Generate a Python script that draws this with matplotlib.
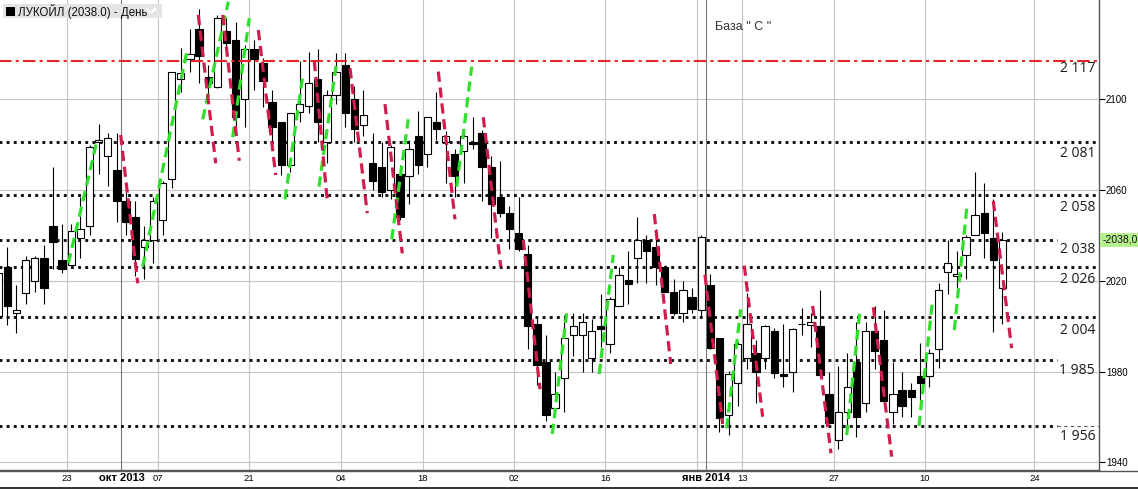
import matplotlib
matplotlib.use("Agg")
import matplotlib.pyplot as plt
import matplotlib.transforms as mtransforms
from matplotlib.patches import Rectangle
from matplotlib.lines import Line2D

# ЛУКОЙЛ daily candles, trading-day index 0 = 23 Sep 2013
first_index = -8
opens = [2004.5, 2026, 2006, 2014.5, 2020, 2030, 2044, 2029,
         2027, 2039, 2044, 2081, 2075, 2069, 2055, 2048, 2035, 2038,
         2047, 2065, 2109, 2117.6, 2131, 2110, 2105.6, 2130, 2126, 2100,
         2122, 2116, 2099, 2090, 2071, 2094.5, 2097, 2109, 2081, 2102,
         2115, 2100, 2088.5, 2072, 2070, 2060, 2067, 2066, 2084, 2076,
         2090, 2081, 2076, 2077, 2081.3, 2085, 2070, 2057, 2050, 2041,
         2032, 2001, 1984, 1964, 1977, 1996, 1996, 1986, 2000, 1992,
         2009, 2020.4, 2030, 2038, 2035, 2026, 2015, 2006, 2013, 2007,
         2018, 1995, 1961, 1975, 1986, 1988, 1986, 1998, 1979, 1980,
         2001, 2000.5, 2000, 1970, 1950, 1962, 1984, 1966, 1998, 1994,
         1962, 1972, 1972, 1978, 1978, 1990, 2024, 2022, 2031.4, 2040,
         2050, 2039, 2017]
highs = [2025, 2035, 2018, 2031, 2031, 2036, 2070, 2045,
         2045, 2057, 2080, 2089, 2085, 2085, 2059, 2055, 2044, 2057,
         2064, 2112, 2122.5, 2131, 2140, 2115, 2137, 2136, 2134, 2124,
         2126, 2118, 2104, 2090, 2094, 2117, 2121, 2122, 2104, 2120.5,
         2120.5, 2106, 2104, 2085, 2081, 2080, 2071, 2082, 2095, 2092,
         2103, 2086, 2078, 2086.5, 2092, 2086.5, 2075, 2073, 2053, 2057,
         2036, 2004, 1996, 1980, 2005, 2006, 2006, 2003, 2014, 2013,
         2026, 2033, 2048, 2040, 2043, 2027, 2021, 2020, 2017, 2040,
         2023, 1995, 1980.4, 1993, 2014.5, 1994, 2000.5, 1999, 2001, 1999,
         2008, 2006, 2016, 1980, 1982.5, 1988, 2002, 2002, 2009, 2007,
         1984, 1980, 1975, 1992.5, 1990, 2019, 2038, 2033, 2040, 2068,
         2063, 2056, 2041.5]
lows = [2003, 2000.5, 1997, 2010, 2015, 2010, 2025, 2023.5,
        2027, 2030, 2040, 2067, 2062, 2046, 2040, 2022, 2021, 2028,
        2040, 2061, 2103, 2112, 2107, 2100, 2105, 2119.5, 2087, 2088,
        2104, 2096.5, 2078, 2066.6, 2068, 2090, 2094, 2081, 2072, 2098,
        2088, 2081, 2084, 2060, 2057, 2056, 2047, 2054, 2067, 2070,
        2082, 2063, 2057, 2063, 2078, 2055, 2039, 2048, 2034, 2033,
        1990, 1974, 1958, 1963, 1962, 1987, 1980, 1980, 1991, 1988,
        2009, 2010, 2019, 2019, 2018, 2015, 2005, 2002, 2006, 2004.5,
        1990, 1953.5, 1952, 1965, 1981, 1966, 1981, 1977, 1973, 1971,
        1996, 1991, 1978, 1957, 1946, 1954, 1951, 1962, 1981, 1966,
        1957, 1960, 1960, 1965, 1973, 1981.5, 2014, 2014, 2021, 2040,
        2030, 1997.6, 2001]
closes = [2023.5, 2009, 2007, 2029, 2030, 2017, 2037, 2025,
          2042, 2043, 2079, 2082, 2083, 2055, 2046, 2029.5, 2038, 2055,
          2063, 2112, 2111.5, 2120, 2119, 2107, 2135.7, 2125, 2092, 2122,
          2117.6, 2108, 2088, 2071, 2094, 2098, 2107, 2090, 2102, 2112,
          2094, 2087, 2093, 2064, 2059, 2079, 2048.3, 2078, 2071, 2092,
          2087, 2084, 2066, 2084, 2080.2, 2070, 2054, 2050, 2043, 2034,
          2000, 1983, 1961, 1970, 1995, 2000, 2002, 1998, 1998.6, 2012,
          2022.4, 2018.5, 2038, 2033, 2026, 2015, 2006, 2016, 2007.4, 2039.4,
          1990.3, 1959.4, 1979, 1992, 2001, 1980, 2000, 1979.5, 1978, 1998.6,
          2001, 2002, 1978.5, 1957.2, 1962, 1973, 1960, 1998, 1989, 1967,
          1970, 1965, 1969, 1975, 1988, 2016, 2028, 2023, 2039.2, 2049,
          2041, 2029, 2038]

# support / resistance levels: value, label, dotted line end (trading-day index)
levels = [2081, 2058, 2038, 2026, 2004, 1985, 1956]
level_labels = ["2 081", "2 058", "2 038", "2 026", "2 004", "1 985", "1 956"]
level_ends = [112.4, 112.4, 108.0, 112.4, 112.4, 108.0, 108.0]
level_label_drop = [10.7, 13.3, 9.7, 12.7, 13.0, 9.8, 10.8]   # px below the line
base_level = 2117

# dashed swing lines (start index, start price, end index, end price)
up_moves = [(-0.32, 2027.7, 2.79, 2081.3), (7.82, 2026.2, 12.71, 2122.0),
            (14.40, 2091.2, 17.20, 2143.0), (17.68, 2083.3, 19.50, 2135.7),
            (23.41, 2055.9, 25.41, 2111.7), (27.13, 2061.5, 29.07, 2116.6),
            (35.10, 2038.3, 36.91, 2091.2), (42.22, 2061.5, 43.86, 2114.4),
            (52.69, 1952.5, 54.26, 2005.7), (57.83, 1978.9, 59.37, 2031.4),
            (71.79, 1955.0, 73.32, 2007.4), (84.93, 1952.0, 86.39, 2007.1),
            (92.85, 1956.0, 94.35, 2011.9), (96.72, 1998.3, 98.14, 2054.2)]
down_moves = [(5.41, 2084.3, 7.28, 2018.9), (13.91, 2137.2, 15.82, 2071.8),
              (16.59, 2137.2, 18.40, 2072.9), (20.49, 2130.5, 22.39, 2066.6),
              (26.62, 2116.9, 28.04, 2055.3), (30.53, 2113.7, 32.42, 2049.8),
              (34.36, 2097.9, 36.26, 2032.1), (40.20, 2112.2, 42.03, 2047.1),
              (45.13, 2092.1, 47.04, 2026.2), (49.51, 2038.0, 51.34, 1972.2),
              (63.86, 2049.4, 65.66, 1983.3), (69.41, 2022.6, 71.35, 1956.9),
              (73.72, 2026.7, 75.73, 1960.1), (81.21, 2008.9, 83.21, 1944.0),
              (87.85, 2008.3, 89.86, 1942.5), (100.99, 2055.2, 103.0, 1990.3)]

# date axis: index of the first trading day of each labelled week
tick_index = [0, 6, 10, 20, 30, 39, 49, 59, 70, 74, 84, 94, 106]
tick_labels = ["23", "окт 2013", "07", "21", "04", "18", "02", "16",
               "янв 2014", "13", "27", "10", "24"]
month_ticks = ["окт 2013", "янв 2014"]
extra_grid_index = [69]
price_ticks = [1940, 1980, 2020, 2060, 2100]
last_price = 2038.0

W, H = 1138, 490
fig = plt.figure(figsize=(W / 100, H / 100), dpi=100)
fig.patch.set_facecolor("white")
ax = fig.add_axes([0, 20 / H, 1099 / W, 470 / H])
ax.set_xlim(-7.806, 112.57)
ax.set_ylim(1936.62, 2143.76)

def px(x, y):
    return x / W, 1 - y / H

# grid
for v in price_ticks:
    ax.axhline(v, color="#c4c4c4", lw=0.8, zorder=0)
for i, lab in zip(tick_index, tick_labels):
    c = "#7a7a7a" if lab in month_ticks else "#c4c4c4"
    ax.axvline(i - 0.5, color=c, lw=0.8, zorder=0)
for i in extra_grid_index:
    ax.axvline(i - 0.5, color="#c4c4c4", lw=0.8, zorder=0)

# levels
for lvl, end in zip(levels, level_ends):
    ax.plot([-8, end], [lvl, lvl], color="#111111", lw=2.1,
            ls=(0, (1, 1.45)), dash_capstyle="butt", zorder=1)
ax.plot([108.0, 112.5], [levels[-1], levels[-1]], color="#555555", lw=0.8,
        ls=(0, (3, 3)), zorder=1)
ax.plot([-8, 113], [base_level, base_level], color="#e3262a", lw=1.5,
        ls=(0, (6, 2, 1.5, 2)), zorder=4)

# candles
xs = list(range(first_index, first_index + len(opens)))
ax.vlines(xs, lows, highs, color="black", lw=0.8, zorder=2)
bottoms = [min(o, c) for o, c in zip(opens, closes)]
heights = [abs(c - o) for o, c in zip(opens, closes)]
faces = ["black" if c < o else "white" for o, c in zip(opens, closes)]
ax.bar(xs, heights, bottom=bottoms, width=0.8, color=faces,
       edgecolor="black", linewidth=0.8, zorder=3)

# swing lines
for x0, y0, x1, y1 in up_moves:
    ax.plot([x0, x1], [y0, y1], color="#2fe02a", lw=2.3,
            ls=(0, (3.2, 1.8)), dash_capstyle="butt", zorder=5)
for x0, y0, x1, y1 in down_moves:
    ax.plot([x0, x1], [y0, y1], color="#cf1d4d", lw=2.3,
            ls=(0, (3.2, 1.8)), dash_capstyle="butt", zorder=5)

# level labels
lab_x = 1095 / 1099
ax.annotate("2 117", xy=(lab_x, base_level), xycoords=("axes fraction", "data"),
            xytext=(0, -7.7 * 0.72), textcoords="offset points",
            ha="right", va="center", fontsize=10, family="Open Sans",
            color="#1a1a1a", zorder=6)
for lvl, lab, drop in zip(levels, level_labels, level_label_drop):
    ax.annotate(lab, xy=(lab_x, lvl), xycoords=("axes fraction", "data"),
                xytext=(0, -drop * 0.72), textcoords="offset points",
                ha="right", va="center", fontsize=10, family="Open Sans",
                color="#1a1a1a", zorder=6)

# axes frame
for s in ["left", "top"]:
    ax.spines[s].set_visible(False)
ax.spines["right"].set_color("#555555")
ax.spines["bottom"].set_color("#555555")
ax.spines["right"].set_linewidth(1)
ax.spines["bottom"].set_linewidth(1)
ax.yaxis.tick_right()
ax.set_yticks(price_ticks)
ax.set_yticklabels([str(v) for v in price_ticks])
ax.tick_params(axis="y", length=4, width=0.8, pad=1, labelsize=7,
               colors="black")
for t in ax.get_yticklabels():
    t.set_family("Liberation Sans")
ax.set_xticks([])

ax.text(1.003, last_price, "-2038,0", transform=mtransforms.blended_transform_factory(
        ax.transAxes, ax.transData), ha="left", va="center", fontsize=7.5,
        family="Liberation Sans", color="#111111", clip_on=False,
        bbox=dict(boxstyle="square,pad=0.2", facecolor="#b6ef8e", edgecolor="none"))

# date labels
trans = mtransforms.blended_transform_factory(ax.transData, ax.transAxes)
for i, lab in zip(tick_index, tick_labels):
    if lab in month_ticks:
        ax.text(i - 0.5, -8 / 470, lab, transform=trans, ha="center", va="center",
                fontsize=8, fontweight="bold", family="Liberation Sans",
                color="black", clip_on=False)
    else:
        ax.text(i - 0.5, -8 / 470, lab, transform=trans, ha="center", va="center",
                fontsize=6.8, family="Liberation Sans", color="black", clip_on=False)

fig.lines.append(Line2D([0, 1], [1 - 470.5 / H, 1 - 470.5 / H], transform=fig.transFigure,
                        color="#555555", lw=1))
fig.lines.append(Line2D([0, 1], [1 - 488 / H, 1 - 488 / H], transform=fig.transFigure,
                        color="#111111", lw=1.2))

# title plate
x0, y0 = px(2.7, 18.3)
x1, y1 = px(161.7, 4)
fig.patches.append(Rectangle((x0, y0), x1 - x0, y1 - y0, transform=fig.transFigure,
                             facecolor="#e4e4e4", edgecolor="none", zorder=10))
x0, y0 = px(6, 16)
x1, y1 = px(15, 7)
fig.patches.append(Rectangle((x0, y0), x1 - x0, y1 - y0, transform=fig.transFigure,
                             facecolor="black", edgecolor="none", zorder=11))
tx, ty = px(17.5, 11.5)
fig.text(tx, ty, "ЛУКОЙЛ (2038.0) - День", ha="left", va="center", fontsize=8.3,
         family="Liberation Sans", color="#111111", zorder=11)
cx = [147 / W, 151 / W, 155 / W]
cy = [1 - 9 / H, 1 - 13 / H, 1 - 9 / H]
fig.lines.append(Line2D(cx, cy, transform=fig.transFigure, color="white", lw=1.6, zorder=12))

bx, by = px(715, 27.5)
fig.text(bx, by, "База \" С \"", ha="left", va="center", fontsize=9,
         family="Liberation Sans", color="#333333")

fig.savefig("out.png", dpi=100, facecolor="white")
